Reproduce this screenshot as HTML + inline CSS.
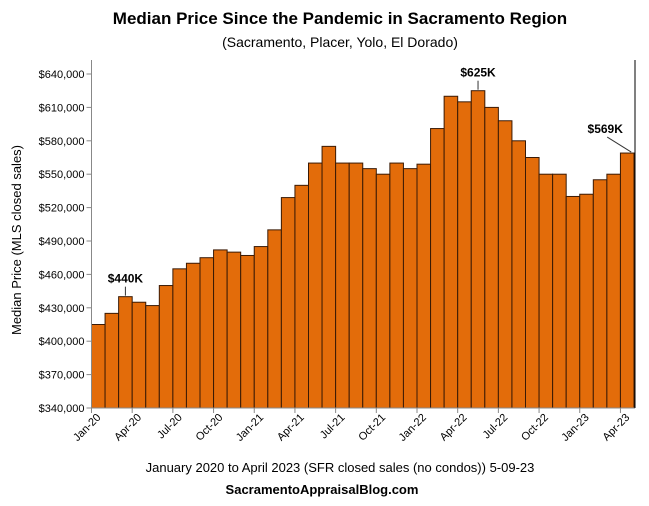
<!DOCTYPE html>
<html><head><meta charset="utf-8"><style>
body{margin:0;background:#fff;}
svg text{font-family:"Liberation Sans",sans-serif;}
</style></head><body>
<svg id="chart" width="649" height="501" xmlns="http://www.w3.org/2000/svg">
<rect width="649" height="501" fill="#fff"/>
<text x="340" y="24" text-anchor="middle" font-size="17" font-weight="bold">Median Price Since the Pandemic in Sacramento Region</text>
<text x="340" y="47" text-anchor="middle" font-size="14">(Sacramento, Placer,  Yolo, El Dorado)</text>
<text transform="translate(21,240) rotate(-90)" text-anchor="middle" font-size="13">Median Price (MLS closed sales)</text>
<text x="340" y="472" text-anchor="middle" font-size="13">January 2020 to April 2023 (SFR closed sales (no condos)) 5-09-23</text>
<text x="322" y="494" text-anchor="middle" font-size="13" font-weight="bold">SacramentoAppraisalBlog.com</text>
<g id="plot"></g>
</svg>
<script>
const categories=["Jan-20","Feb-20","Mar-20","Apr-20","May-20","Jun-20","Jul-20","Aug-20","Sep-20","Oct-20","Nov-20","Dec-20","Jan-21","Feb-21","Mar-21","Apr-21","May-21","Jun-21","Jul-21","Aug-21","Sep-21","Oct-21","Nov-21","Dec-21","Jan-22","Feb-22","Mar-22","Apr-22","May-22","Jun-22","Jul-22","Aug-22","Sep-22","Oct-22","Nov-22","Dec-22","Jan-23","Feb-23","Mar-23","Apr-23"];
const values=[415000,425000,440000,435000,432000,450000,465000,470000,475000,482000,480000,477000,485000,500000,529000,540000,560000,575000,560000,560000,555000,550000,560000,555000,559000,591000,620000,615000,625000,610000,598000,580000,565000,550000,550000,530000,532000,545000,550000,569000];
const yTicks=[340000,370000,400000,430000,460000,490000,520000,550000,580000,610000,640000];
const annotations=[{i:2,label:"$440K"},{i:28,label:"$625K"},{i:39,label:"$569K"}];
const NS="http://www.w3.org/2000/svg";
const g=document.getElementById("plot");
const x0=91.5,x1=634,yB=408,yT=74,vMin=340000,vMax=640000;
const bw=(x1-x0)/categories.length;
const xs=i=>x0+i*bw;
const ys=v=>yB-(v-vMin)/(vMax-vMin)*(yB-yT);
function mk(t,a){const e=document.createElementNS(NS,t);for(const k in a)e.setAttribute(k,a[k]);g.appendChild(e);return e;}
yTicks.forEach(v=>{
 const y=ys(v);
 const tk=mk("line",{x1:x0-5,x2:x0,y1:y,y2:y,stroke:"#888"});
 
 
 const t=mk("text",{x:x0-7,y:y+4,"text-anchor":"end","font-size":"11"});
 t.textContent="$"+v.toLocaleString("en-US");
 
 
});
values.forEach((v,i)=>{
 const r=mk("rect",{x:xs(i),y:ys(v),width:bw,height:yB-ys(v),fill:"#E36C0A",stroke:"#3a1a05","stroke-width":"1"});
 
 
});
const ax=mk("line",{x1:x0,x2:x0,y1:60,y2:yB,stroke:"#888"});


const bx=mk("line",{x1:x0,x2:x1+1,y1:yB,y2:yB,stroke:"#888"});


const rb=mk("line",{x1:x1+1,x2:x1+1,y1:60,y2:yB,stroke:"#000"});


categories.forEach((c,i)=>{
 if(i%3!==0)return;
 const tk=mk("line",{x1:xs(i),x2:xs(i),y1:yB,y2:yB+5,stroke:"#888"});
 
 
 const cx=xs(i)+bw/2;
 const t=mk("text",{transform:`translate(${cx+3},${yB+10}) rotate(-45)`,"text-anchor":"end","font-size":"11"});
 t.textContent=c;
 
 
});
annotations.forEach(a=>{
 const cx=xs(a.i)+bw/2, y=ys(values[a.i]);
 const last=a.i===categories.length-1;
 const l=mk("line",last?{x1:cx-20,y1:y-16,x2:cx+4,y2:y-1}:{x1:cx,y1:y-10,x2:cx,y2:y-1,stroke:"#000"});
 l.setAttribute("stroke","#333");
 
 
 const t=mk("text",{x:last?cx-22:cx,y:last?y-20:y-14,"text-anchor":"middle","font-size":"12","font-weight":"bold"});
 t.textContent=a.label;
 
 
});
</script>
</body></html>
